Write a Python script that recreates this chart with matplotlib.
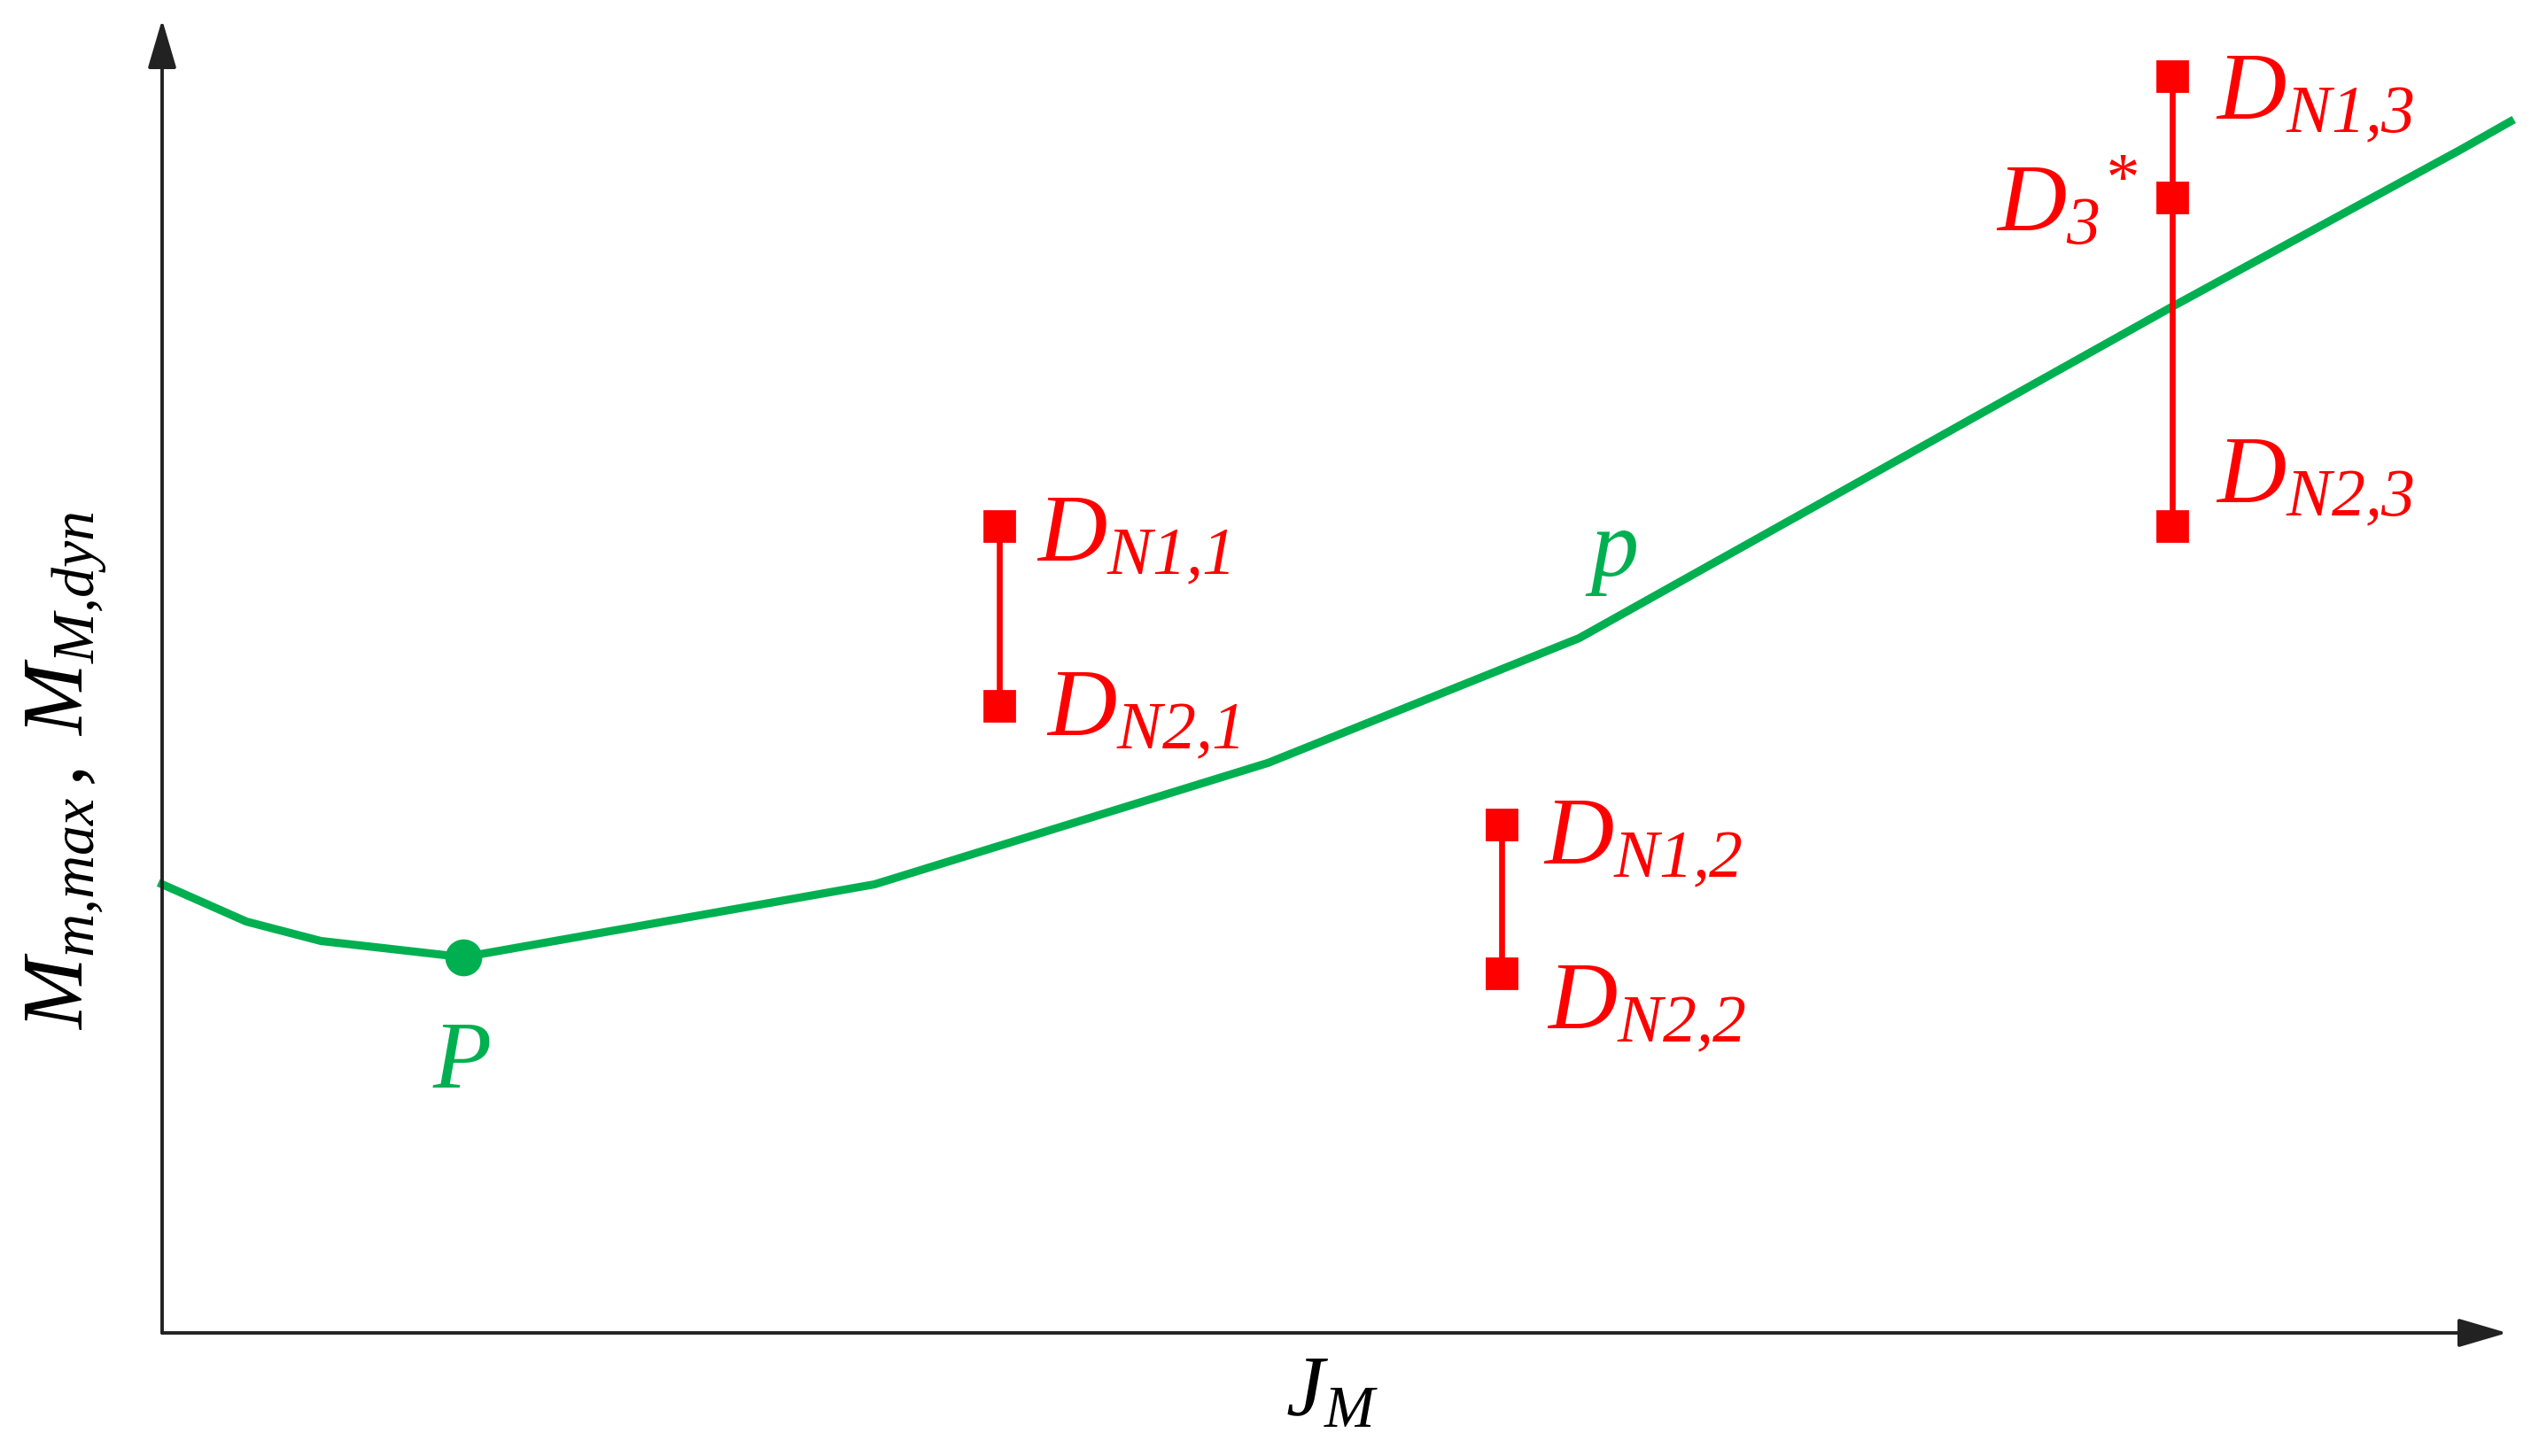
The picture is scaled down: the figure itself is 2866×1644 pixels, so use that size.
import matplotlib
matplotlib.use("Agg")
import matplotlib.pyplot as plt

plt.rcParams['mathtext.fontset'] = 'custom'
plt.rcParams['mathtext.it'] = 'Liberation Serif:italic'
plt.rcParams['mathtext.rm'] = 'Liberation Serif:italic'
plt.rcParams['mathtext.bf'] = 'Liberation Serif:bold'

GREEN = '#00b050'
RED = '#ff0000'

# green curve p (arbitrary units, origin at axes crossing)
curve_x = [0, 52, 98, 186, 440, 683, 875, 1240, 1420, 1450]
curve_y = [277, 254, 242, 232, 277, 352, 429, 633, 731, 748]
point_P = (186, 232)

# red design ranges D_N1,i / D_N2,i
dx = [517, 827, 1241]
dn1 = [498, 314, 776]
dn2 = [387, 222, 498]
d3_star = 701

x_max, y_max = 1448, 811

fig = plt.figure(figsize=(14.33, 8.22), dpi=200)
ax = fig.add_axes([183 / 2866, 139 / 1644, (2830 - 183) / 2866, (1505 - 22) / 1644])
ax.set_xlim(0, x_max)
ax.set_ylim(0, y_max)
ax.axis('off')

# axes with arrows
arrow = dict(arrowstyle='-|>,head_length=1.7,head_width=0.5', color='#222222',
             lw=1.4, shrinkA=0, shrinkB=0)
ax.annotate('', xy=(x_max, 0), xytext=(0, 0), arrowprops=arrow, annotation_clip=False)
ax.annotate('', xy=(0, y_max), xytext=(0, 0), arrowprops=arrow, annotation_clip=False)

ax.plot(curve_x, curve_y, color=GREEN, lw=3.3, solid_joinstyle='round', clip_on=False)
ax.plot(*point_P, 'o', color=GREEN, ms=14)

for x, a, b in zip(dx, dn1, dn2):
    ax.plot([x, x], [a, b], color=RED, lw=2.4, marker='s', ms=12.5)
ax.plot(dx[2], d3_star, 's', color=RED, ms=12.5)

fs = 39
labels = [
    (540, 490, r'$D_{N1{,}1}$'),
    (546, 382, r'$D_{N2{,}1}$'),
    (853, 303, r'$D_{N1{,}2}$'),
    (855, 201, r'$D_{N2{,}2}$'),
    (1268, 763, r'$D_{N1{,}3}$'),
    (1268, 526, r'$D_{N2{,}3}$'),
]
for x, y, s in labels:
    ax.text(x, y, s, color=RED, fontsize=fs, ha='left', va='center')
ax.text(1220, 697, r'$D_{3}{}^{*}$', color=RED, fontsize=fs, ha='right', va='center')

ax.text(185, 168, r'$P$', color=GREEN, fontsize=fs, ha='center', va='center')
ax.text(895, 483, r'$p$', color=GREEN, fontsize=fs, ha='center', va='center')

fig.text(1503 / 2866, 1 - 1572 / 1644, r'$J_M$', fontsize=35, ha='center', va='center')
fig.text(75 / 2866, 1 - 870 / 1644, r'$M_{m{,}max}\, ,\; M_{M{,}dyn}$',
         fontsize=35, rotation=90, ha='center', va='center')

fig.savefig('out.png', dpi=200)
